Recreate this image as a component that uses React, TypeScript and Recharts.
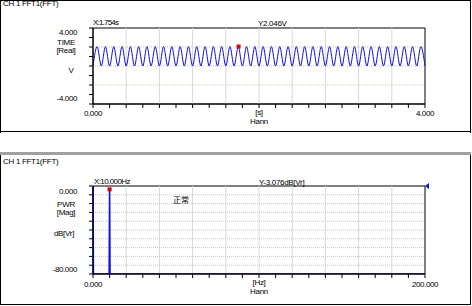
import React from "react"
import { LineChart, Line, XAxis, YAxis, ReferenceLine, ReferenceArea, ReferenceDot } from "recharts"

// time record, CH1 (10 Hz sine riding on ~1 V offset)
const times = [
  0, 0.05, 0.1, 0.15, 0.2, 0.25, 0.3, 0.35, 0.4, 0.45, 0.5, 0.55, 0.6, 0.65, 0.7, 0.75, 0.8, 0.85, 0.9, 0.95,
  1, 1.05, 1.1, 1.15, 1.2, 1.25, 1.3, 1.35, 1.4, 1.45, 1.5, 1.55, 1.6, 1.65, 1.7, 1.75, 1.8, 1.85, 1.9, 1.95,
  2, 2.05, 2.1, 2.15, 2.2, 2.25, 2.3, 2.35, 2.4, 2.45, 2.5, 2.55, 2.6, 2.65, 2.7, 2.75, 2.8, 2.85, 2.9, 2.95,
  3, 3.05, 3.1, 3.15, 3.2, 3.25, 3.3, 3.35, 3.4, 3.45, 3.5, 3.55, 3.6, 3.65, 3.7, 3.75, 3.8, 3.85, 3.9, 3.95,
  4,
]
const volts = [
  0, 2.046, 0, 2.046, 0, 2.046, 0, 2.046, 0, 2.046, 0, 2.046, 0, 2.046, 0, 2.046, 0, 2.046, 0, 2.046,
  0, 2.046, 0, 2.046, 0, 2.046, 0, 2.046, 0, 2.046, 0, 2.046, 0, 2.046, 0, 2.046, 0, 2.046, 0, 2.046,
  0, 2.046, 0, 2.046, 0, 2.046, 0, 2.046, 0, 2.046, 0, 2.046, 0, 2.046, 0, 2.046, 0, 2.046, 0, 2.046,
  0, 2.046, 0, 2.046, 0, 2.046, 0, 2.046, 0, 2.046, 0, 2.046, 0, 2.046, 0, 2.046, 0, 2.046, 0, 2.046,
  0,
]

// spectrum, CH1 FFT
const freqs = [0, 0.25, 9.75, 10, 10.25, 200]
const dbs = [0, -80, -80, -3.076, -80, -80]

const timeTicks = [0, 0.2, 0.4, 0.6, 0.8, 1, 1.2, 1.4, 1.6, 1.8, 2, 2.2, 2.4, 2.6, 2.8, 3, 3.2, 3.4, 3.6, 3.8, 4]
const timeGrid = [0.4, 0.8, 1.2, 1.6, 2, 2.4, 2.8, 3.2, 3.6]
const voltTicks = [-4, -3, -2, -1, 0, 1, 2, 3, 4]
const voltGrid = [-2, 0, 2]
const freqTicks = [0, 10, 20, 30, 40, 50, 60, 70, 80, 90, 100, 110, 120, 130, 140, 150, 160, 170, 180, 190, 200]
const freqGrid = [20, 40, 60, 80, 100, 120, 140, 160, 180]
const dbTicks = [0, -8, -16, -24, -32, -40, -48, -56, -64, -72, -80]
const dbGrid = [-8, -16, -24, -32, -40, -48, -56, -64, -72]

const cursorTime = { x: 1.754, y: 2.046 }
const cursorFreq = { x: 10, y: -3.076 }

const timeData = times.map((t, i) => ({ t, v: volts[i] }))
const freqData = freqs.map((f, i) => ({ f, db: dbs[i] }))

const FONT = "'Liberation Sans', Arial, sans-serif"
const BLUE = "#1010e8"

function Txt({ x, y, children, anchor = "start", ls = -0.3 }: any) {
  const tx = anchor === "middle" ? "-50%" : anchor === "end" ? "-100%" : "0"
  return (
    <span
      style={{
        position: "absolute",
        left: x,
        top: y,
        transform: `translate(${tx}, -50%)`,
        fontFamily: FONT,
        fontSize: 8,
        lineHeight: "9px",
        letterSpacing: ls,
        whiteSpace: "nowrap",
        color: "#000",
      }}
    >
      {children}
    </span>
  )
}

const xTick = (first: number, last: number, labelY: number) => (props: any) => {
  const v = props.payload.value
  if (v !== first && v !== last) return <g />
  return (
    <text x={props.x} y={labelY} textAnchor="middle" dominantBaseline="central" fontSize={8} fontFamily={FONT} letterSpacing={-0.4} fill="#000">
      {v.toFixed(3)}
    </text>
  )
}

const yTick = (top: number, bottom: number, topDy: number, bottomDy: number) => (props: any) => {
  const v = props.payload.value
  if (v !== top && v !== bottom) return <g />
  return (
    <text x={77} y={props.y + (v === top ? topDy : bottomDy)} textAnchor="end" dominantBaseline="central" fontSize={8} fontFamily={FONT} letterSpacing={-0.4} fill="#000">
      {v.toFixed(3)}
    </text>
  )
}

const redSquare = (p: any) => <rect x={p.cx - 2} y={p.cy - 2} width={4} height={4} fill="#e00000" />
const blueFlag = (p: any) => (
  <polygon points={`${p.cx},${p.cy} ${p.cx + 4},${p.cy - 3} ${p.cx + 4},${p.cy + 3}`} fill={BLUE} />
)

export default function App() {
  const line = (style: React.CSSProperties) => <div style={{ position: "absolute", background: "#000", ...style }} />
  return (
    <div style={{ position: "absolute", left: 0, top: 0, width: 472, height: 306, background: "#fff", overflow: "hidden" }}>
      {/* top panel: time waveform */}
      <div style={{ position: "absolute", left: 0, top: 0 }}>
        <LineChart width={472} height={132} data={timeData} margin={{ top: 28, left: 0, right: 47, bottom: 0 }}>
          {timeGrid.map((g) => (
            <ReferenceLine key={"tx" + g} x={g} stroke="#d8d8d8" />
          ))}
          {voltGrid.map((g) => (
            <ReferenceLine key={"ty" + g} y={g} stroke="#cfcfb8" strokeDasharray="1 1" />
          ))}
          <XAxis
            dataKey="t"
            type="number"
            domain={[0, 4]}
            ticks={timeTicks}
            interval={0}
            height={28}
            tickSize={4}
            stroke="#000"
            tick={xTick(0, 4, 113)}
          />
          <YAxis type="number" domain={[-4, 4]} ticks={voltTicks} interval={0} width={93} tickSize={4} stroke="#000" tick={yTick(4, -4, 4, -6)} />
          <ReferenceArea x1={0} x2={4} y1={-4} y2={4} fill="none" stroke="#000" fillOpacity={0} />
          <Line dataKey="v" type="monotone" stroke={BLUE} strokeWidth={1} dot={false} isAnimationActive={false} />
          <ReferenceDot x={cursorTime.x} y={cursorTime.y} shape={redSquare} />
        </LineChart>
      </div>

      {/* bottom panel: spectrum */}
      <div style={{ position: "absolute", left: 0, top: 153 }}>
        <LineChart width={472} height={153} data={freqData} margin={{ top: 33, left: 0, right: 47, bottom: 0 }}>
          {freqGrid.map((g) => (
            <ReferenceLine key={"fx" + g} x={g} stroke="#d8d8d8" />
          ))}
          {dbGrid.map((g) => (
            <ReferenceLine key={"fy" + g} y={g} stroke="#c8c8c8" strokeDasharray="1 1" />
          ))}
          <XAxis
            dataKey="f"
            type="number"
            domain={[0, 200]}
            ticks={freqTicks}
            interval={0}
            height={32}
            tickSize={4}
            stroke="#000"
            tick={xTick(0, 200, 131)}
          />
          <YAxis type="number" domain={[-80, 0]} ticks={dbTicks} interval={0} width={93} tickSize={4} stroke="#000" allowDataOverflow tick={yTick(0, -80, 5, -5)} />
          <ReferenceArea x1={0} x2={200} y1={-80} y2={0} fill="none" stroke="#000" fillOpacity={0} />
          <Line dataKey="db" type="linear" stroke={BLUE} strokeWidth={1.6} dot={false} isAnimationActive={false} />
          <ReferenceDot x={cursorFreq.x} y={cursorFreq.y} shape={redSquare} />
          <ReferenceDot x={200} y={0} shape={blueFlag} />
        </LineChart>
      </div>

      {/* frames */}
      {line({ left: 0, top: 0, width: 471, height: 1 })}
      {line({ left: 0, top: 0, width: 1, height: 133 })}
      {line({ left: 470, top: 0, width: 1, height: 133 })}
      {line({ left: 0, top: 131, width: 471, height: 1 })}
      <div style={{ position: "absolute", left: 0, top: 152, width: 471, height: 3, background: "#a0a0a0" }} />
      {line({ left: 0, top: 155, width: 1, height: 150 })}
      {line({ left: 470, top: 155, width: 1, height: 150 })}
      {line({ left: 0, top: 304, width: 471, height: 1 })}

      {/* top panel texts */}
      <Txt x={3} y={3}>CH 1 FFT1(FFT)</Txt>
      <Txt x={93} y={22} ls={-0.8}>X:1.754s</Txt>
      <Txt x={258} y={23}>Y2.046V</Txt>
      <Txt x={66} y={42} anchor="middle">TIME</Txt>
      <Txt x={66} y={50} anchor="middle">[Real]</Txt>
      <Txt x={71} y={70} anchor="middle">V</Txt>
      <Txt x={259} y={112} anchor="middle">[s]</Txt>
      <Txt x={259} y={121} anchor="middle">Hann</Txt>

      {/* bottom panel texts */}
      <Txt x={3} y={161}>CH 1 FFT1(FFT)</Txt>
      <Txt x={94} y={181} ls={-0.6}>X:10.000Hz</Txt>
      <Txt x={259} y={182}>Y-3.076dB[Vr]</Txt>
      <Txt x={66} y={204} anchor="middle">PWR</Txt>
      <Txt x={66} y={212} anchor="middle">[Mag]</Txt>
      <Txt x={64} y={233} anchor="middle">dB[Vr]</Txt>
      <span style={{ position: "absolute", left: 173, top: 195, fontFamily: "'Noto Sans CJK JP', sans-serif", fontSize: 8, lineHeight: "10px" }}>正常</span>
      <Txt x={259} y={282} anchor="middle">[Hz]</Txt>
      <Txt x={259} y={291} anchor="middle">Hann</Txt>
    </div>
  )
}
